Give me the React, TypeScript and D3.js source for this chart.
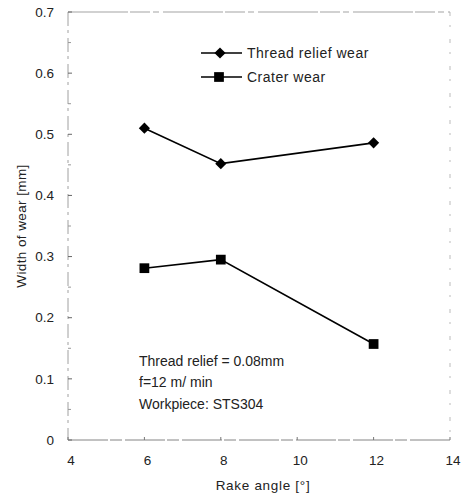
import * as d3 from 'd3';
import React from 'react';

// rake angle [deg]
const rakeAngles = [6, 8, 12];
const threadReliefWear = [0.51, 0.452, 0.486];
const craterWear = [0.281, 0.295, 0.157];

const xTicks = [4, 6, 8, 10, 12, 14];
const yTicks = [0, 0.1, 0.2, 0.3, 0.4, 0.5, 0.6, 0.7];
const yMinor = [0.05, 0.15, 0.25, 0.35, 0.45, 0.55, 0.65];

const notes = ["Thread relief = 0.08mm", "f=12 m/ min", "Workpiece: STS304"];

function App() {
  const width = 473;
  const height = 497;
  const left = 68, right = 450, top = 12, bottom = 440;

  const x = d3.scaleLinear().domain([4, 14]).range([left, right]);
  const y = d3.scaleLinear().domain([0, 0.7]).range([bottom, top]);

  const line = d3.line<number>()
    .x((_, i) => x(rakeAngles[i]))
    .y(d => y(d));

  // the diamond in the scan is a square turned 45 degrees
  const diamond = d3.symbol().type(d3.symbolSquare).size(62)();
  const square = d3.symbol().type(d3.symbolSquare).size(95)();

  const font = "'Liberation Sans', Arial, sans-serif";

  return (
    <svg width={width} height={height}
      style={{ position: 'absolute', left: 0, top: 0, background: '#fff' }}
      fontFamily={font}>
      {/* frame, faint like the scan */}
      <line x1={left} x2={right} y1={top} y2={top} stroke="#999" strokeWidth={0.9} strokeDasharray="60 2 20 3 6 4" />
      <line x1={right} x2={right} y1={top} y2={bottom} stroke="#aaa" strokeWidth={0.8} strokeDasharray="4 9 2 12" />
      <line x1={left} x2={left} y1={top} y2={bottom} stroke="#888" strokeWidth={0.8} strokeDasharray="14 4 3 5" />
      <line x1={left} x2={right} y1={bottom} y2={bottom} stroke="#777" strokeWidth={0.9} strokeDasharray="40 2 12 3" />

      {yTicks.map(t => (
        <g key={t}>
          <line x1={left} x2={left + 4} y1={y(t)} y2={y(t)} stroke="#666" />
          <text x={left - 14} y={y(t)} dy="0.35em" textAnchor="end" fontSize={13.5} fill="#222">{t === 0 ? '0' : t.toFixed(1)}</text>
        </g>
      ))}
      {yMinor.map(t => (
        <line key={t} x1={left} x2={left + 3} y1={y(t)} y2={y(t)} stroke="#999" />
      ))}
      {xTicks.map(t => (
        <g key={t}>
          <line x1={x(t)} x2={x(t)} y1={bottom} y2={bottom - 3} stroke="#777" />
          <text x={x(t) + 3} y={bottom + 25} textAnchor="middle" fontSize={13.5} fill="#222">{t}</text>
        </g>
      ))}

      <text x={263} y={490} textAnchor="middle" fontSize={13.5} fill="#222" letterSpacing={0.7}>Rake angle [°]</text>
      <text transform={`translate(26,${(top + bottom) / 2}) rotate(-90)`} textAnchor="middle" fontSize={13.5} fill="#222" letterSpacing={0.4}>Width of wear [mm]</text>

      <path d={line(threadReliefWear) ?? ''} fill="none" stroke="#000" strokeWidth={1.6} />
      <path d={line(craterWear) ?? ''} fill="none" stroke="#000" strokeWidth={1.6} />
      {threadReliefWear.map((v, i) => (
        <path key={i} d={diamond ?? ''} transform={`translate(${x(rakeAngles[i])},${y(v)}) rotate(45)`} fill="#000" />
      ))}
      {craterWear.map((v, i) => (
        <path key={i} d={square ?? ''} transform={`translate(${x(rakeAngles[i])},${y(v)})`} fill="#000" />
      ))}

      {/* legend */}
      <g>
        <line x1={201} x2={242} y1={53} y2={53} stroke="#000" strokeWidth={1.6} />
        <path d={diamond ?? ''} transform="translate(220,53) rotate(45)" fill="#000" />
        <text x={247} y={53} dy="0.35em" fontSize={14} fill="#222" letterSpacing={0.5}>Thread relief wear</text>
        <line x1={201} x2={242} y1={77} y2={77} stroke="#000" strokeWidth={1.6} />
        <path d={square ?? ''} transform="translate(219,77)" fill="#000" />
        <text x={247} y={77} dy="0.35em" fontSize={14} fill="#222" letterSpacing={0.5}>Crater wear</text>
      </g>

      {notes.map((n, i) => (
        <text key={n} x={139} y={361 + i * 21.5} dy="0.35em" fontSize={14} fill="#222">{n}</text>
      ))}
    </svg>
  );
}

export default App;
